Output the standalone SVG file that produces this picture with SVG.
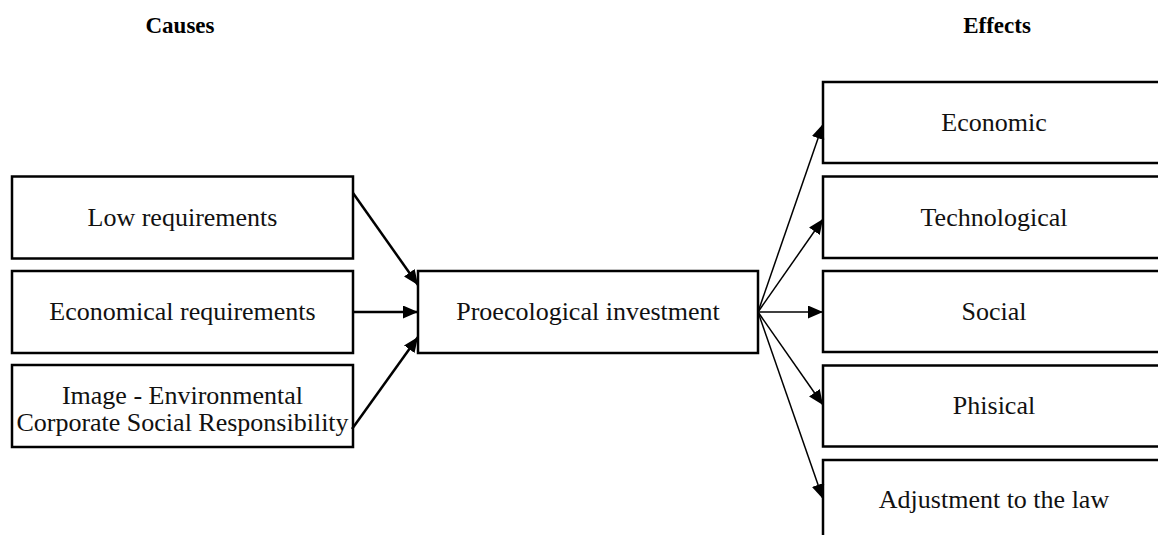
<svg xmlns="http://www.w3.org/2000/svg" width="1158" height="535" viewBox="0 0 1158 535">
<style>
.box{fill:#fff;stroke:#000;stroke-width:2.5}
.t{font-family:"Liberation Serif","Times New Roman",serif;font-size:26px;fill:#111;text-anchor:middle}
.h{font-family:"Liberation Serif","Times New Roman",serif;font-size:23px;font-weight:bold;fill:#000;text-anchor:middle}
.c1{stroke:#000;stroke-width:2.5;fill:none}
.c2{stroke:#000;stroke-width:1.5;fill:none}
</style>
<defs>
<marker id="ah" viewBox="0 0 15 13" refX="15" refY="6.5" markerUnits="userSpaceOnUse" markerWidth="15" markerHeight="13" orient="auto">
<path d="M0,0 L15,6.5 L0,13 Z" fill="#000"/>
</marker>
</defs>
<rect width="1158" height="535" fill="#fff"/>
<text class="h" x="180" y="33">Causes</text>
<text class="h" x="997" y="33">Effects</text>
<g id="n-low"><rect class="box" x="12" y="176.5" width="341" height="82"/><text class="t" x="182.5" y="226">Low requirements</text></g>
<g id="n-econreq"><rect class="box" x="12" y="271" width="341" height="82"/><text class="t" x="182.5" y="320">Economical requirements</text></g>
<g id="n-image"><rect class="box" x="12" y="365" width="341" height="82"/><text class="t" x="182.5" y="404">Image - Environmental</text><text class="t" x="182.5" y="431">Corporate Social Responsibility</text></g>
<g id="n-center"><rect class="box" x="418" y="271" width="340" height="82"/><text class="t" x="588" y="320">Proecological investment</text></g>
<g id="n-economic"><rect class="box" x="823" y="82" width="342" height="81"/><text class="t" x="994" y="131">Economic</text></g>
<g id="n-tech"><rect class="box" x="823" y="176.5" width="342" height="81.5"/><text class="t" x="994" y="226">Technological</text></g>
<g id="n-social"><rect class="box" x="823" y="271" width="342" height="81"/><text class="t" x="994" y="320">Social</text></g>
<g id="n-phis"><rect class="box" x="823" y="365.5" width="342" height="81"/><text class="t" x="994" y="414">Phisical</text></g>
<g id="n-law"><rect class="box" x="823" y="460" width="342" height="90"/><text class="t" x="994" y="508">Adjustment to the law</text></g>
<g id="connectors">
<line class="c1" x1="353" y1="193" x2="418" y2="285" marker-end="url(#ah)"/>
<line class="c1" x1="353" y1="312" x2="418" y2="312" marker-end="url(#ah)"/>
<line class="c1" x1="352" y1="429" x2="418" y2="337" marker-end="url(#ah)"/>
<line class="c2" x1="758" y1="312" x2="823" y2="124" marker-end="url(#ah)"/>
<line class="c2" x1="758" y1="312" x2="823" y2="219" marker-end="url(#ah)"/>
<line class="c2" x1="758" y1="312" x2="823" y2="312" marker-end="url(#ah)"/>
<line class="c2" x1="758" y1="312" x2="823" y2="405" marker-end="url(#ah)"/>
<line class="c2" x1="758" y1="312" x2="823" y2="499" marker-end="url(#ah)"/>
</g>
</svg>
